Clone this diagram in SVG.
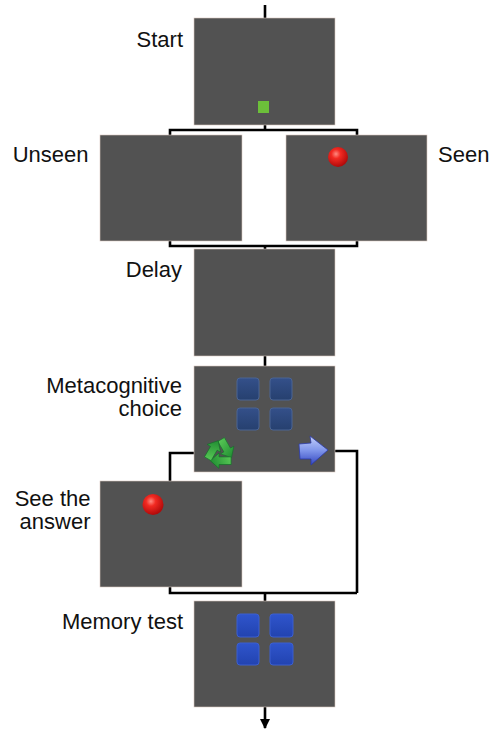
<svg xmlns="http://www.w3.org/2000/svg" width="490" height="732" viewBox="0 0 490 732">
  <style>
    .panel { fill: #525252; stroke: #d9c8c0; stroke-width: 0.6; }
    .wire { fill: none; stroke: #000; stroke-width: 2.6; stroke-linejoin: miter; }
    .lbl { font-family: "Liberation Sans", Arial, sans-serif; font-size: 22px; fill: #111; }
    .end { text-anchor: end; }
    .tileDark { fill: url(#tileNavy); stroke: #4a6494; stroke-width: 1; }
    .tileBright { fill: url(#tileBlue); stroke: #3b5fd0; stroke-width: 1; }
    .ball { fill: url(#redBall); }
    .leaf { fill: url(#greenLeaf); stroke: #16702a; stroke-width: 0.6; }
  </style>
  <defs>
    <marker id="arrowDown" viewBox="0 0 10 10" refX="9" refY="5" markerWidth="4" markerHeight="4" orient="auto" markerUnits="strokeWidth">
      <path d="M0,0 L10,5 L0,10 z" fill="#000"/>
    </marker>
    <radialGradient id="redBall" cx="0.4" cy="0.35" r="0.65">
      <stop offset="0" stop-color="#ff8a80"/>
      <stop offset="0.35" stop-color="#f22a22"/>
      <stop offset="1" stop-color="#b00a0a"/>
    </radialGradient>
    <linearGradient id="tileNavy" x1="0" y1="0" x2="0" y2="1">
      <stop offset="0" stop-color="#34508a"/>
      <stop offset="1" stop-color="#26406f"/>
    </linearGradient>
    <linearGradient id="tileBlue" x1="0" y1="0" x2="0" y2="1">
      <stop offset="0" stop-color="#2f55cc"/>
      <stop offset="1" stop-color="#2243b0"/>
    </linearGradient>
    <linearGradient id="greenLeaf" x1="0" y1="0" x2="1" y2="1">
      <stop offset="0" stop-color="#5fcf5a"/>
      <stop offset="1" stop-color="#1d8a30"/>
    </linearGradient>
    <linearGradient id="blueArrow" x1="0" y1="0" x2="0" y2="1">
      <stop offset="0" stop-color="#c4d0fa"/>
      <stop offset="0.5" stop-color="#7f95ea"/>
      <stop offset="1" stop-color="#3346c0"/>
    </linearGradient>
    <!-- one of the three chasing arrows of the recycle symbol -->
    <path id="leafArrow" d="M4,-14 L9.5,-4.5 L12.6,-6.2 L10.5,4.2 L0.4,0.8 L3.5,-1 L-2,-10.5 z"/>
  </defs>

  <!-- connectors -->
  <g id="connectors">
    <path class="wire" d="M265,5 V18"/>
    <path class="wire" d="M265,125 V130"/>
    <path class="wire" d="M170,135 V130 H357 V135"/>
    <path class="wire" d="M170,241 V246 H357 V241"/>
    <path class="wire" d="M265,246 V249"/>
    <path class="wire" d="M265,356 V366"/>
    <path class="wire" d="M194,453 H170 V481"/>
    <path class="wire" d="M335,451 H357 V593"/>
    <path class="wire" d="M170,587 V593 H357"/>
    <path class="wire" d="M265,593 V601"/>
    <path class="wire" d="M265,707 V728" marker-end="url(#arrowDown)"/>
  </g>

  <g id="start">
    <rect class="panel" x="194" y="18" width="141" height="107"/>
    <rect x="258" y="101" width="11" height="12" fill="#6cbf3a"/>
    <text class="lbl end" x="183" y="46.5">Start</text>
  </g>

  <g id="unseen">
    <rect class="panel" x="100" y="135" width="142" height="106"/>
    <text class="lbl end" x="88.5" y="161.5">Unseen</text>
  </g>

  <g id="seen">
    <rect class="panel" x="286" y="135" width="141" height="106"/>
    <circle class="ball" cx="338" cy="157" r="10"/>
    <text class="lbl" x="438" y="161.5">Seen</text>
  </g>

  <g id="delay">
    <rect class="panel" x="194" y="249" width="141" height="107"/>
    <text class="lbl end" x="182" y="276.5">Delay</text>
  </g>

  <g id="metacognitive-choice">
    <rect class="panel" x="194" y="366" width="141" height="106"/>
    <rect class="tileDark" x="237" y="378" width="22" height="22" rx="3"/>
    <rect class="tileDark" x="270" y="378" width="22" height="22" rx="3"/>
    <rect class="tileDark" x="237" y="408" width="22" height="22" rx="3"/>
    <rect class="tileDark" x="270" y="408" width="22" height="22" rx="3"/>
    <!-- recycle symbol -->
    <g transform="translate(220,453) scale(1.1)">
      <use href="#leafArrow" class="leaf"/>
      <use href="#leafArrow" class="leaf" transform="rotate(120)"/>
      <use href="#leafArrow" class="leaf" transform="rotate(240)"/>
    </g>
    <!-- forward arrow -->
    <path d="M299,444 L311,443 L310,436 L328,450 L311,465 L311,459 L300,459 z" fill="url(#blueArrow)" stroke="#2b3aa8" stroke-width="0.8"/>
    <text class="lbl end" x="182" y="393">Metacognitive</text>
    <text class="lbl end" x="182" y="416">choice</text>
  </g>

  <g id="see-the-answer">
    <rect class="panel" x="100" y="481" width="142" height="106"/>
    <circle class="ball" cx="153" cy="504.5" r="10.5"/>
    <text class="lbl end" x="90.5" y="506">See the</text>
    <text class="lbl end" x="90.5" y="529">answer</text>
  </g>

  <g id="memory-test">
    <rect class="panel" x="194" y="601" width="141" height="106"/>
    <rect class="tileBright" x="237" y="614" width="22" height="23" rx="3"/>
    <rect class="tileBright" x="270" y="614" width="23" height="23" rx="3"/>
    <rect class="tileBright" x="237" y="643" width="22" height="22" rx="3"/>
    <rect class="tileBright" x="270" y="643" width="23" height="22" rx="3"/>
    <text class="lbl end" x="183" y="629">Memory test</text>
  </g>
</svg>
